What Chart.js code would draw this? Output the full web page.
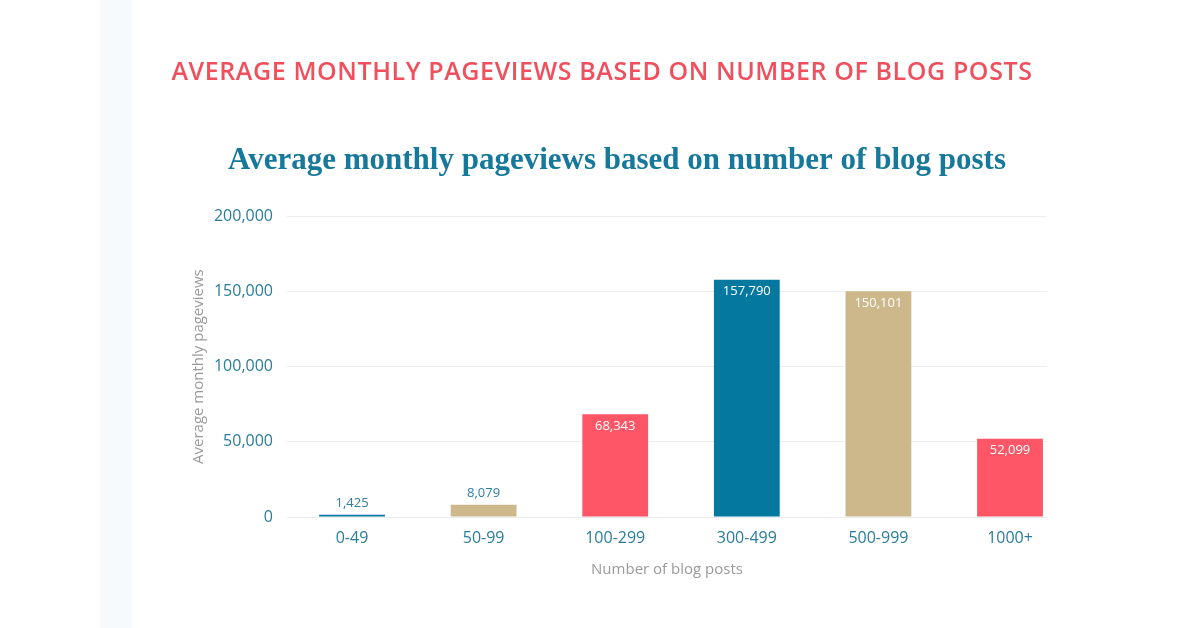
<!DOCTYPE html>
<html>
<head>
<meta charset="utf-8">
<script src="https://cdn.jsdelivr.net/npm/chart.js@4.4.0/dist/chart.umd.min.js"></script>
<style>
  html, body { margin: 0; padding: 0; background: #ffffff; }
  body { width: 1200px; height: 628px; position: relative; overflow: hidden; }
  #strip { position: absolute; left: 100px; top: 0; width: 32px; height: 628px; background: #f7fafc; }
  #mainTitle { position: absolute; left: 0; width: 1204px; top: 55px; text-align: center;
    font-family: "Open Sans", sans-serif; font-weight: 600; font-size: 25px; color: #f0505e;
    letter-spacing: 0.6px; margin: 0; line-height: 30px; }
  #wrap { position: absolute; left: 0; top: 0; width: 1200px; height: 628px; }
</style>
</head>
<body>
<div id="strip"></div>
<div id="wrap"><canvas id="c" width="1200" height="628"></canvas></div>
<h1 id="mainTitle">AVERAGE MONTHLY PAGEVIEWS BASED ON NUMBER OF BLOG POSTS</h1>
<script>
const categories = ["0-49", "50-99", "100-299", "300-499", "500-999", "1000+"];
const pageviews = [1425, 8079, 68343, 157790, 150101, 52099];
const barColors = ["#04789f", "#cdb88b", "#fe5567", "#04789f", "#cdb88b", "#fe5567"];
const yTicks = [0, 50000, 100000, 150000, 200000];

const fmt = (v) => v.toLocaleString('en-US');

const valueLabels = {
  id: 'valueLabels',
  afterDatasetsDraw(chart) {
    const ctx = chart.ctx;
    const meta = chart.getDatasetMeta(0);
    ctx.save();
    ctx.font = '500 13px "Open Sans", sans-serif';
    ctx.textAlign = 'center';
    ctx.textBaseline = 'middle';
    meta.data.forEach((bar, i) => {
      const v = pageviews[i];
      const h = bar.base - bar.y;
      if (h < 30) {
        ctx.fillStyle = '#2f7fa3';
        ctx.fillText(fmt(v), bar.x, bar.y - 12);
      } else {
        ctx.fillStyle = '#ffffff';
        ctx.fillText(fmt(v), bar.x, bar.y + 12);
      }
    });
    ctx.restore();
  }
};

new Chart(document.getElementById('c'), {
  type: 'bar',
  data: {
    datasets: [{
      data: pageviews.map((v, i) => ({ x: i, y: v })),
      backgroundColor: barColors,
      borderWidth: 0,
      barPercentage: 0.5,
      categoryPercentage: 1.0
    }]
  },
  options: {
    responsive: false,
    animation: false,
    devicePixelRatio: 1,
    layout: { padding: { left: 187, right: 153, top: 0, bottom: 41 } },
    plugins: {
      legend: { display: false },
      tooltip: { enabled: false },
      title: {
        display: true,
        text: 'Average monthly pageviews based on number of blog posts',
        color: '#16789b',
        font: { family: '"Liberation Serif", serif', size: 31, weight: 'bold' },
        padding: { top: 142, bottom: 37 }
      }
    },
    scales: {
      x: {
        type: 'linear',
        offset: false,
        min: -0.494,
        max: 5.281,
        afterBuildTicks: (axis) => { axis.ticks = categories.map((c, i) => ({ value: i })); },
        afterFit: (axis) => { axis.height = 70; },
        grid: { display: false, offset: false, drawTicks: false },
        border: { display: false },
        ticks: {
          padding: 12,
          color: '#2b7c9a',
          font: { family: '"Open Sans", sans-serif', size: 16, weight: '500' },
          callback: (v) => categories[v]
        },
        title: {
          display: true,
          text: 'Number of blog posts',
          color: '#9a9a9a',
          font: { family: '"Open Sans", sans-serif', size: 15 },
          padding: { top: 0, bottom: 8 }
        }
      },
      y: {
        min: 0,
        max: 200000,
        afterBuildTicks: (axis) => { axis.ticks = yTicks.map(v => ({ value: v })); },
        afterFit: (axis) => { axis.width = 100; },
        grid: { color: '#ececec', lineWidth: 1, drawTicks: false },
        border: { display: false },
        ticks: {
          padding: 14,
          color: '#2b7c9a',
          font: { family: '"Open Sans", sans-serif', size: 16, weight: '500' },
          callback: (v) => fmt(v)
        },
        title: {
          display: true,
          text: 'Average monthly pageviews',
          color: '#9a9a9a',
          font: { family: '"Open Sans", sans-serif', size: 15 },
          padding: { top: 3, bottom: 3 }
        }
      }
    }
  },
  plugins: [valueLabels]
});
</script>
</body>
</html>
